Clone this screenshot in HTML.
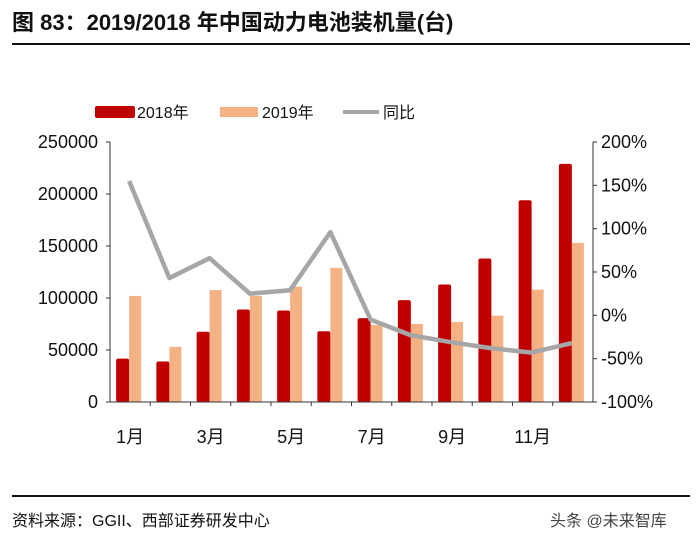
<!DOCTYPE html>
<html><head><meta charset="utf-8"><style>
body{margin:0;background:#fff;width:700px;height:544px;overflow:hidden;font-family:"Liberation Sans","Noto Sans CJK SC",sans-serif}
</style></head><body>
<svg width="700" height="544" xmlns="http://www.w3.org/2000/svg" style="font-family:'Liberation Sans','Noto Sans CJK SC',sans-serif">
<text x="12" y="30" font-size="22" font-weight="bold" fill="#111">图 83：2019/2018 年中国动力电池装机量(台)</text>
<rect x="12" y="43" width="678" height="2" fill="#111"/>
<g>
<rect x="95" y="106" width="40" height="12" rx="2" fill="#c00000"/>
<text x="137" y="118" font-size="16" fill="#111">2018年</text>
<rect x="220" y="107" width="38" height="10" fill="#f4b183"/>
<text x="262" y="118" font-size="16" fill="#111">2019年</text>
<rect x="343" y="110" width="36" height="4" fill="#a6a6a6"/>
<text x="383" y="118" font-size="16" fill="#111">同比</text>
</g>
<g id="chart"></g>
<rect x="12" y="495" width="678" height="2" fill="#111"/>
<text x="12" y="526" font-size="16" fill="#111">资料来源：GGII、西部证券研发中心</text>
<text x="550" y="526" font-size="16" fill="#444">头条 @未来智库</text>
</svg>
<script>
const months=["1月","2月","3月","4月","5月","6月","7月","8月","9月","10月","11月","12月"];
const v2018=[41700,39000,67600,89000,88000,68000,80700,98000,113000,138000,194000,229000];
const v2019=[102000,53000,107600,102000,111000,129000,74000,75000,77000,83000,108000,153000];
const yoy=[155,43,66,25,29,96,-5,-23,-31,-38,-43,-32];
const leftTicks=[0,50000,100000,150000,200000,250000];
const rightTicks=[-100,-50,0,50,100,150,200];
const NS="http://www.w3.org/2000/svg";
const g=document.getElementById('chart');
const X0=110,X1=593,Y0=402,Y1=142;
const band=(X1-X0)/months.length;
const yL=v=>Y0-(v/250000)*(Y0-Y1);
const yR=p=>Y0-((p+100)/300)*(Y0-Y1);
const xc=i=>X0+band*(i+0.5);
function mk(t,a){const e=document.createElementNS(NS,t);for(const k in a)e.setAttribute(k,a[k]);g.appendChild(e);return e;}
let e;
e=mk('line',{x1:X0,y1:Y1,x2:X0,y2:Y0,stroke:'#333','stroke-width':1});


e=mk('line',{x1:X1,y1:Y1,x2:X1,y2:Y0,stroke:'#333','stroke-width':1});


leftTicks.forEach(v=>{
 mk('line',{x1:X0-4,y1:yL(v),x2:X0,y2:yL(v),stroke:'#333'});
 e=mk('text',{x:98,y:yL(v)+6,'font-size':18,'text-anchor':'end',fill:'#111'});e.textContent=v;
 
 
});
rightTicks.forEach(p=>{
 mk('line',{x1:X1,y1:yR(p),x2:X1+4,y2:yR(p),stroke:'#333'});
 e=mk('text',{x:601,y:yR(p)+6,'font-size':18,fill:'#111'});e.textContent=p+'%';
 
 
});
months.forEach((m,i)=>{
 const c=xc(i);
 e=mk('rect',{x:c-14,y:yL(v2018[i]),width:13,height:Y0-yL(v2018[i]),rx:2,fill:'#c00000'});
 
 
 e=mk('rect',{x:c-1,y:yL(v2019[i]),width:12,height:Y0-yL(v2019[i]),fill:'#f4b183'});
 
 
 if(i>0)mk('line',{x1:X0+band*i,y1:Y0,x2:X0+band*i,y2:Y0+4,stroke:'#333'});
 if(i%2==0){e=mk('text',{x:c,y:443,'font-size':18,'text-anchor':'middle',fill:'#111'});e.textContent=m;
 
 }
});
e=mk('line',{x1:X0,y1:Y0,x2:X1,y2:Y0,stroke:'#333','stroke-width':1});


e=mk('polyline',{points:yoy.map((p,i)=>(xc(i)-1)+','+yR(p)).join(' '),fill:'none',stroke:'#a6a6a6','stroke-width':4.5,'stroke-linejoin':'round'});


</script>
</body></html>
